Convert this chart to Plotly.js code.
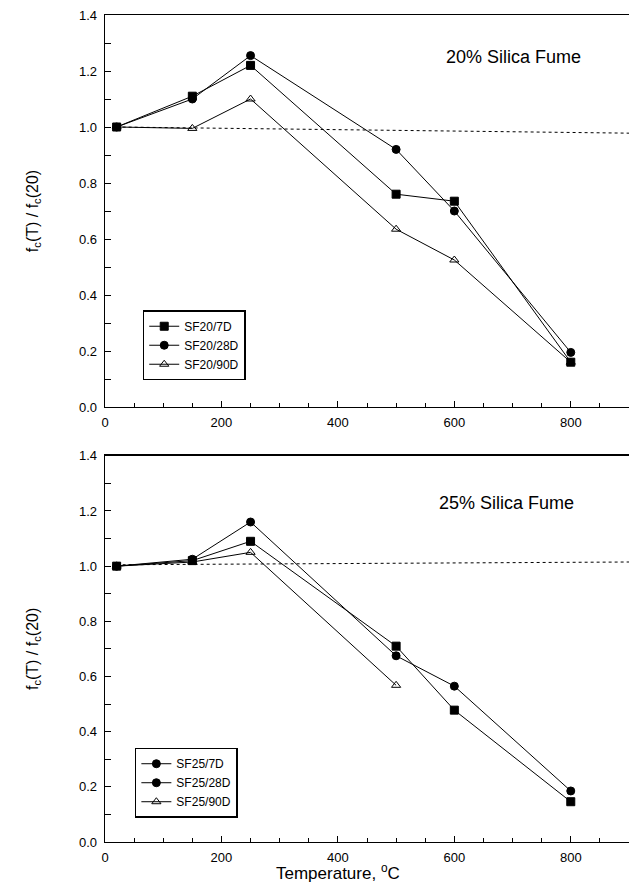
<!DOCTYPE html>
<html>
<head>
<meta charset="utf-8">
<script src="https://cdn.plot.ly/plotly-3.0.1.min.js"></script>
<style>html,body{margin:0;padding:0;background:#fff;}#chart{width:629px;height:885px;}</style>
</head>
<body>
<div id="chart"></div>
<script>
// ---- data ----
const tempTop = [20, 150, 250, 500, 600, 800];
const sf20_7d = [1.00, 1.11, 1.22, 0.76, 0.735, 0.16];
const sf20_28d = [1.00, 1.10, 1.255, 0.92, 0.70, 0.195];
const sf20_90d = [1.00, 0.995, 1.10, 0.635, 0.525, 0.16];

const tempBot = [20, 150, 250, 500, 600, 800];
const sf25_7d = [1.00, 1.02, 1.09, 0.71, 0.478, 0.146];
const sf25_28d = [1.00, 1.025, 1.16, 0.675, 0.565, 0.185];
const tempBot90 = [20, 150, 250, 500];
const sf25_90d = [1.00, 1.015, 1.05, 0.568];

const refX = [20, 900];
const refTop = [1.0, 0.978];
const refBot = [1.005, 1.015];

const labelsTop = ['SF20/7D', 'SF20/28D', 'SF20/90D'];
const labelsBot = ['SF25/7D', 'SF25/28D', 'SF25/90D'];
const panelTitles = ['20% Silica Fume', '25% Silica Fume'];
const xTitle = 'Temperature, <sup>o</sup>C';
const yTitle = 'f<sub>c</sub>(T) / f<sub>c</sub>(20)';

const font = 'Liberation Sans, Arial, sans-serif';
const line = {color: '#000', width: 1};

function series(x, y, name, symbol, xa, ya, leg, show) {
  return {x: x, y: y, name: name, xaxis: xa, yaxis: ya, legend: leg, showlegend: show,
    mode: 'lines+markers', line: line,
    marker: {symbol: symbol, size: 8, color: '#000', line: {color: '#000', width: 1}}};
}

const traces = [
  {x: refX, y: refTop, xaxis: 'x', yaxis: 'y', mode: 'lines', showlegend: false,
   line: {color: '#000', width: 1, dash: 'dot'}},
  series(tempTop, sf20_7d, labelsTop[0], 'square', 'x', 'y', 'legend', true),
  series(tempTop, sf20_28d, labelsTop[1], 'circle', 'x', 'y', 'legend', true),
  series(tempTop, sf20_90d, labelsTop[2], 'triangle-up-open', 'x', 'y', 'legend', true),

  {x: refX, y: refBot, xaxis: 'x2', yaxis: 'y2', mode: 'lines', showlegend: false,
   line: {color: '#000', width: 1, dash: 'dot'}},
  series(tempBot, sf25_7d, labelsBot[0], 'square', 'x2', 'y2', 'legend2', false),
  series([null], [null], labelsBot[0], 'circle', 'x2', 'y2', 'legend2', true),
  series(tempBot, sf25_28d, labelsBot[1], 'circle', 'x2', 'y2', 'legend2', true),
  series(tempBot90, sf25_90d, labelsBot[2], 'triangle-up-open', 'x2', 'y2', 'legend2', true)
];

function xaxis(anchor) {
  return {anchor: anchor, range: [0, 900], tickvals: [0, 200, 400, 600, 800],
    ticks: 'inside', ticklen: 6, tickcolor: '#000', showline: true, linecolor: '#000', linewidth: 1.3,
    mirror: true, showgrid: false, zeroline: false, ticklabelstandoff: 3,
    minor: {dtick: 50, tick0: 0, ticks: 'inside', ticklen: 4, tickcolor: '#000'},
    tickfont: {family: font, size: 13, color: '#000'}};
}
function yaxis(anchor, domain) {
  return {anchor: anchor, domain: domain, range: [0, 1.4], dtick: 0.2, tickformat: '.1f',
    ticks: 'inside', ticklen: 6, tickcolor: '#000', showline: true, linecolor: '#000', linewidth: 1.3,
    mirror: true, showgrid: false, zeroline: false, ticklabelstandoff: 4,
    minor: {dtick: 0.1, ticks: 'inside', ticklen: 6, tickcolor: '#000'},
    tickfont: {family: font, size: 13, color: '#000'},
    title: {text: yTitle, font: {family: font, size: 16, color: '#000'}, standoff: 36}};
}

const legendStyle = (x, y) => ({x: x, y: y, xanchor: 'left', yanchor: 'top', xref: 'paper', yref: 'paper',
  bgcolor: '#fff', bordercolor: '#000', borderwidth: 1.5, itemwidth: 30, traceorder: 'normal',
  font: {family: font, size: 12, color: '#000'}});

const layout = {
  width: 629, height: 885,
  margin: {l: 105, r: 0, t: 15, b: 43},
  paper_bgcolor: '#fff', plot_bgcolor: '#fff',
  xaxis: xaxis('y'),
  yaxis: yaxis('x', [0.526, 1]),
  xaxis2: xaxis('y2'),
  yaxis2: yaxis('x2', [0, 0.467]),
  legend: legendStyle(0.072, 0.643),
  legend2: legendStyle(0.057, 0.114),
  annotations: [
    {text: panelTitles[0], xref: 'x', yref: 'y', x: 702, y: 1.25, showarrow: false,
     font: {family: font, size: 18, color: '#000'}},
    {text: panelTitles[1], xref: 'x2', yref: 'y2', x: 690, y: 1.23, showarrow: false,
     font: {family: font, size: 18, color: '#000'}},
    {text: xTitle, xref: 'paper', yref: 'paper', x: (338 - 105) / 524, y: -0.0515,
     yanchor: 'bottom', showarrow: false, font: {family: font, size: 17, color: '#000'}}
  ]
};

Plotly.newPlot('chart', traces, layout, {displayModeBar: false, staticPlot: true});
</script>
</body>
</html>
